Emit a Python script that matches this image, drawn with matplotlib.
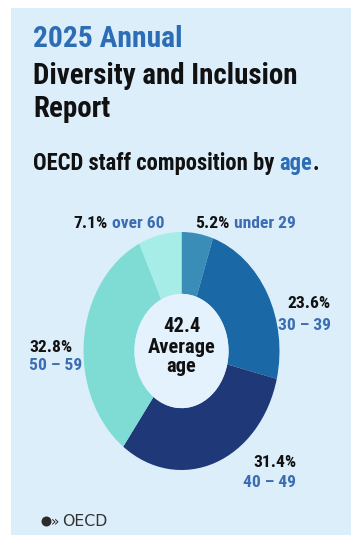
import matplotlib
matplotlib.use("Agg")
import matplotlib.pyplot as plt
from matplotlib.patches import Rectangle, Ellipse
from matplotlib import font_manager

# ---- data ----
categories = ["under 29", "30 – 39", "40 – 49", "50 – 59", "over 60"]
shares = [5.2, 23.6, 31.4, 32.8, 7.1]
colors = ["#3a8db6", "#1a69a6", "#1f3877", "#7edcd5", "#a6ece7"]
average_age = "42.4"

W, H = 351, 535
fig = plt.figure(figsize=(W / 100, H / 100), dpi=100)
fig.patch.set_facecolor("white")

# pick a narrow / condensed font if one is installed
fl = font_manager.fontManager.ttflist
cond = [f for f in fl if ("Narrow" in f.name or "Cond" in f.name
                          or str(f.stretch) in ("condensed", "semi-condensed", "extra-condensed"))]
chosen = None
for pref in ["Roboto Condensed", "Liberation Sans Narrow", "Noto Sans Condensed",
             "Open Sans Condensed", "DejaVu Sans Condensed"]:
    for f in cond:
        if f.name == pref:
            chosen = (f.name, f.stretch)
            break
    if chosen:
        break
if chosen is None and cond:
    chosen = (cond[0].name, cond[0].stretch)
if chosen is None:
    chosen = ("DejaVu Sans", "normal")
FAM = [chosen[0], "DejaVu Sans"]
STR = chosen[1]

BLUE = "#2d6db5"
LBLUE = "#3b6db3"
DARK = "#111111"
BG = "#ddeefb"


def fx(x):
    return x / W


def fy(y):
    return 1 - y / H


def txt(x, y, s, **kw):
    kw.setdefault("family", FAM)
    kw.setdefault("fontstretch", STR)
    kw.setdefault("fontweight", "bold")
    kw.setdefault("va", "baseline")
    return fig.text(fx(x), fy(y), s, **kw)


# panel background
fig.patches.append(Rectangle((fx(11), 0), 1 - fx(11), fy(8), transform=fig.transFigure,
                             facecolor=BG, edgecolor="none", zorder=-5))

# titles
TS = 20.9
txt(33, 47, "2025 Annual", color=BLUE, fontsize=TS + 0.4)
txt(33, 84, "Diversity and Inclusion", color=DARK, fontsize=TS)
txt(33, 117, "Report", color=DARK, fontsize=TS)
SS = 16.3
t = txt(33, 170, "OECD staff composition by ", color=DARK, fontsize=SS)
fig.canvas.draw()
bb = t.get_window_extent()
t2 = txt(bb.x1, 170, "age", color=BLUE, fontsize=SS)
bb2 = t2.get_window_extent()
txt(bb2.x1, 170, ".", color=DARK, fontsize=SS)

# donut
cx, cy, rx, ry = 181.5, 351, 98, 119
ax = fig.add_axes([fx(cx - rx), (H - cy - ry) / H, 2 * rx / W, 2 * ry / H], zorder=2)
ax.pie(shares, colors=colors, startangle=90, counterclock=False, radius=1,
       wedgeprops=dict(width=0.52, edgecolor="none"))
ax.set_aspect("auto")
ax.set_xlim(-1, 1)
ax.set_ylim(-1, 1)
ax.axis("off")
ax.add_patch(Ellipse((0, 0), 0.96, 0.96, facecolor="#e3f2fc", edgecolor="none"))

# center text
CS = 14.8
txt(cx, 332, average_age, color=DARK, fontsize=CS, ha="center")
txt(cx, 353, "Average", color=DARK, fontsize=CS, ha="center")
txt(cx, 372, "age", color=DARK, fontsize=CS, ha="center")

LS = 12.6
pct = [f"{v:.1f}%" for v in shares]
txt(108, 228, pct[4], color=DARK, fontsize=LS, ha="right")
txt(112, 228, categories[4], color=LBLUE, fontsize=LS, ha="left")
txt(230, 228, pct[0], color=DARK, fontsize=LS, ha="right")
txt(234, 228, categories[0], color=LBLUE, fontsize=LS, ha="left")
txt(331, 308, pct[1], color=DARK, fontsize=LS, ha="right")
txt(331, 330, categories[1], color=LBLUE, fontsize=LS, ha="right")
txt(29, 352, pct[3], color=DARK, fontsize=LS, ha="left")
txt(29, 370, categories[3], color=LBLUE, fontsize=LS, ha="left")
txt(296, 467, pct[2], color=DARK, fontsize=LS, ha="right")
txt(296, 487, categories[2], color=LBLUE, fontsize=LS, ha="right")

# OECD logo
fig.patches.append(Ellipse((fx(46.5), fy(521.5)), 10 / W, 10 / H, transform=fig.transFigure,
                           facecolor="#2b2b2b", edgecolor="none"))
txt(50.5, 526, "»", color="#2b2b2b", fontsize=10, fontweight="normal",
    family="DejaVu Sans", fontstretch="normal")
txt(62, 526, "OECD", color="#333333", fontsize=11.3, fontweight="normal",
    family="DejaVu Sans", fontstretch="normal")

fig.savefig("out.png", dpi=100, facecolor=fig.get_facecolor())
